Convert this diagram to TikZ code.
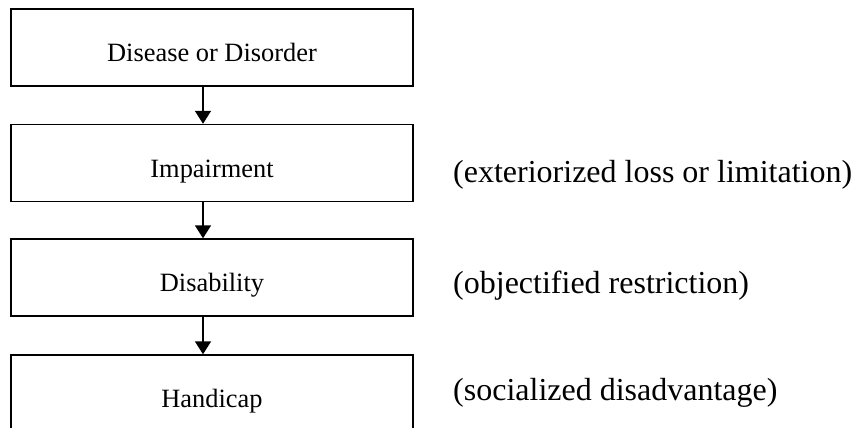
\documentclass[tikz,border=0pt]{standalone}
\usepackage{fontspec}
\setmainfont{Liberation Serif}
\usetikzlibrary{arrows.meta}
\begin{document}
\begin{tikzpicture}[x=1pt,y=-1pt,
  stagebox/.style={draw=black, line width=1.4pt, minimum width=402pt, minimum height=77pt,
    inner sep=0pt, text height=28pt, text depth=0pt, font=\fontsize{26.4pt}{30pt}\selectfont},
  note/.style={anchor=base west, inner sep=0pt, font=\fontsize{32pt}{37pt}\selectfont},
  flow/.style={line width=1.6pt, -{Triangle[width=16pt,length=13pt]}}]
\useasboundingbox (0,0) rectangle (857,428);
\node[stagebox] (b1) at (212,47.5) {Disease or Disorder};
\node[stagebox] (b2) at (212,163) {Impairment};
\node[stagebox] (b3) at (212,277.5) {Disability};
\node[stagebox] (b4) at (212,393.5) {Handicap};
\coordinate (ax) at (203,0);
\draw[flow] (b1.south -| ax) -- (b2.north -| ax);
\draw[flow] (b2.south -| ax) -- (b3.north -| ax);
\draw[flow] (b3.south -| ax) -- (b4.north -| ax);
\node[note] (n2) at (453,182) {(exteriorized loss or limitation)};
\node[note] (n3) at (453,293) {(objectified restriction)};
\node[note] (n4) at (453,400) {(socialized disadvantage)};
\end{tikzpicture}
\end{document}
